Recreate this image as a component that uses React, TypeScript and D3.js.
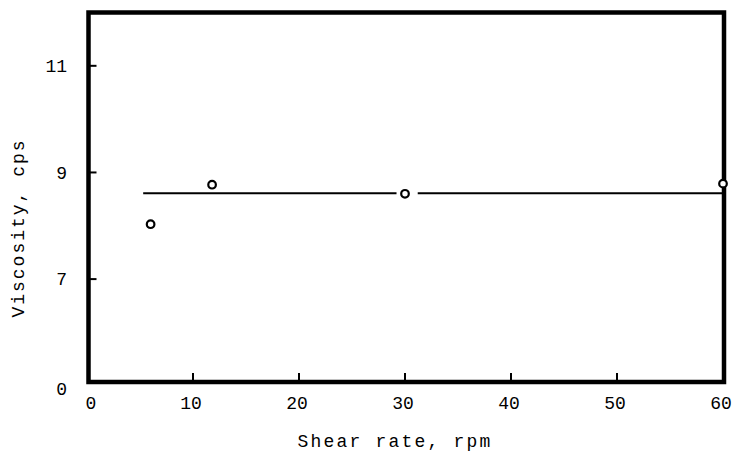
import React from "react";
import * as d3 from "d3";

// shear rate (rpm) vs viscosity (cps)
const shearRates = [6, 11.8, 30, 60];
const viscosities = [8.03, 8.77, 8.6, 8.79];

// mean line, drawn in two pieces (gap around the 30 rpm point)
const fitSegments = [
  [5.3, 29.2],
  [31.2, 60],
];
const fitValue = 8.61;

const xTicks = [0, 10, 20, 30, 40, 50, 60];
const yTicks = [7, 9, 11];
// broken axis: bottom edge is labelled "0"
const yBottom = 5.07;
const yBottomLabel = "0";

const width = 733,
  height = 463,
  margin = { top: 12.5, right: 10, bottom: 81, left: 87 };

const font = "'Liberation Mono', 'Courier New', monospace";

export default function App() {
  const x = d3
    .scaleLinear()
    .domain([0, 60])
    .range([margin.left, width - margin.right]);

  const y = d3
    .scaleLinear()
    .domain([yBottom, 12])
    .range([height - margin.bottom, margin.top]);

  // frame sits a touch right of the data range
  const fx0 = x.range()[0] + 1.5,
    fx1 = x.range()[1] + 1;
  const y0 = y.range()[0],
    y1 = y.range()[1];

  return (
    <svg
      width={width}
      height={height}
      style={{ position: "absolute", left: 0, top: 0, background: "#fff" }}
    >
      {/* mean line */}
      {fitSegments.map((s, i) => (
        <line
          key={i}
          x1={x(s[0])}
          x2={x(s[1])}
          y1={y(fitValue)}
          y2={y(fitValue)}
          stroke="#000"
          strokeWidth={2}
        />
      ))}

      {/* x ticks, pointing inward */}
      {xTicks.slice(1, -1).map((t) => (
        <line
          key={t}
          x1={x(t)}
          x2={x(t)}
          y1={y0}
          y2={y0 - 9}
          stroke="#000"
          strokeWidth={2}
        />
      ))}

      {/* y ticks */}
      {yTicks.map((t) => (
        <line
          key={t}
          x1={fx0}
          x2={fx0 + 8}
          y1={y(t)}
          y2={y(t)}
          stroke="#000"
          strokeWidth={2}
        />
      ))}

      {/* frame */}
      <rect
        x={fx0}
        y={y1}
        width={fx1 - fx0}
        height={y0 - y1}
        fill="none"
        stroke="#000"
        strokeWidth={4.5}
      />

      {/* points */}
      {shearRates.map((r, i) => (
        <circle
          key={i}
          cx={x(r)}
          cy={y(viscosities[i])}
          r={3.8}
          fill="#fff"
          stroke="#000"
          strokeWidth={2.2}
        />
      ))}

      {/* x tick labels */}
      {xTicks.map((t) => (
        <text
          key={t}
          x={x(t) + (t === 0 ? 4 : -2)}
          y={409}
          textAnchor="middle"
          fontFamily={font}
          fontSize={18}
          fill="#000"
        >
          {t}
        </text>
      ))}

      {/* y tick labels */}
      {yTicks.map((t) => (
        <text
          key={t}
          x={67}
          y={y(t)}
          dy="0.35em"
          textAnchor="end"
          fontFamily={font}
          fontSize={18}
          fill="#000"
        >
          {t}
        </text>
      ))}
      <text
        x={67}
        y={y0 + 7}
        dy="0.35em"
        textAnchor="end"
        fontFamily={font}
        fontSize={18}
        fill="#000"
      >
        {yBottomLabel}
      </text>

      {/* axis titles */}
      <text
        x={395}
        y={447}
        textAnchor="middle"
        fontFamily={font}
        fontSize={18}
        letterSpacing={2.2}
        fill="#000"
      >
        Shear rate, rpm
      </text>
      <text
        transform={`translate(24,228) rotate(-90)`}
        textAnchor="middle"
        fontFamily={font}
        fontSize={18}
        letterSpacing={2}
        fill="#000"
      >
        Viscosity, cps
      </text>
    </svg>
  );
}
